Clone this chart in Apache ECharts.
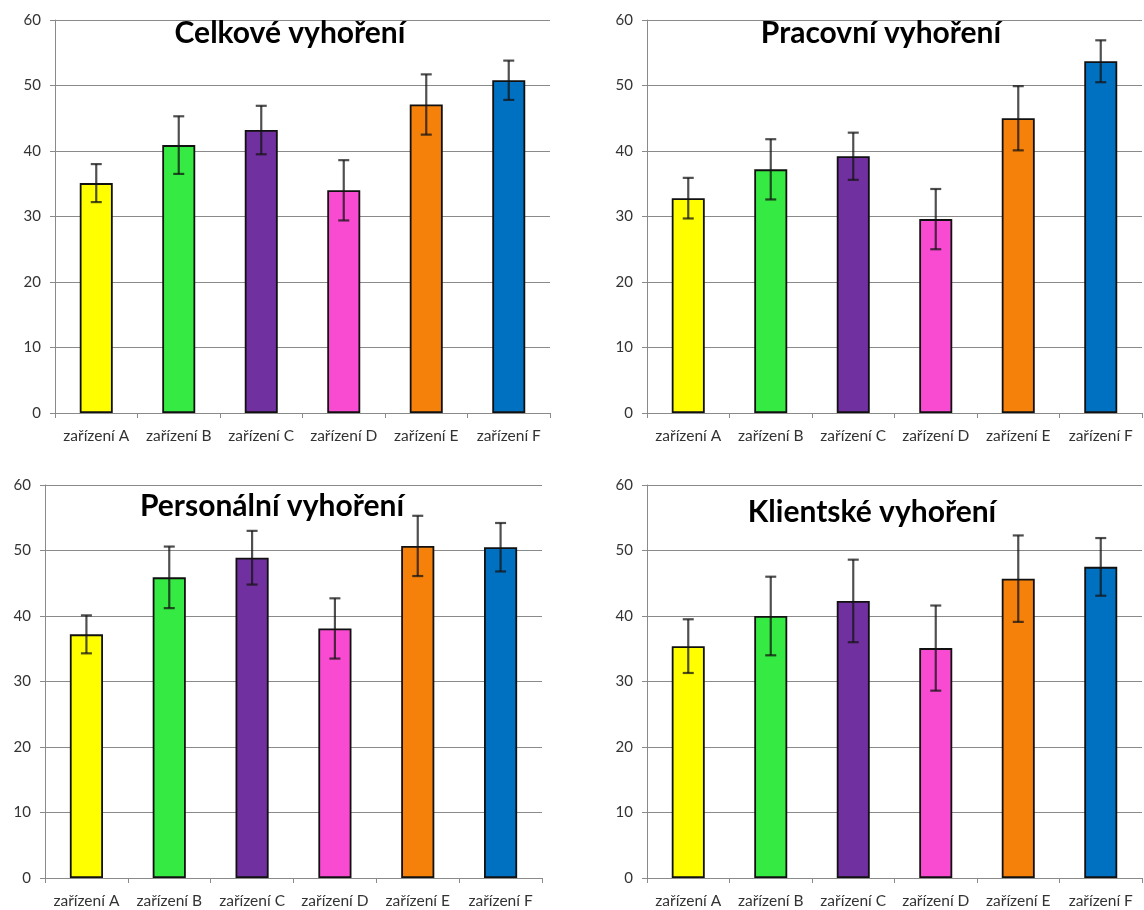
<!DOCTYPE html>
<html>
<head>
<meta charset="utf-8">
<script src="https://cdn.jsdelivr.net/npm/echarts@6/dist/echarts.min.js"></script>
<style>
html, body { margin: 0; padding: 0; background: #ffffff; }
#chart { width: 1144px; height: 910px; }
</style>
</head>
<body>
<div id="chart"></div>
<script>
// ---- Data ----
const categories = ['zařízení A', 'zařízení B', 'zařízení C', 'zařízení D', 'zařízení E', 'zařízení F'];
const yTicks = [0, 10, 20, 30, 40, 50, 60];

const titles = ['Celkové vyhoření', 'Pracovní vyhoření', 'Personální vyhoření', 'Klientské vyhoření'];

const celkoveValues = [35.1, 40.9, 43.2, 34.0, 47.1, 50.8];
const celkoveErrors = [2.9, 4.4, 3.7, 4.6, 4.6, 3.0];

const pracovniValues = [32.8, 37.2, 39.2, 29.6, 45.0, 53.7];
const pracovniErrors = [3.1, 4.6, 3.6, 4.6, 4.9, 3.2];

const personalniValues = [37.2, 45.9, 48.9, 38.1, 50.7, 50.5];
const personalniErrors = [2.9, 4.7, 4.1, 4.6, 4.6, 3.7];

const klientskeValues = [35.4, 40.0, 42.3, 35.1, 45.7, 47.5];
const klientskeErrors = [4.1, 6.0, 6.3, 6.5, 6.6, 4.4];

const barColors = ['#FFFF00', '#35EA42', '#7030A0', '#F94BD1', '#F5800A', '#0070C0'];

// ---- Layout ----
const panels = [
  { values: celkoveValues, errors: celkoveErrors, grid: { left: 55, right: 594, top: 20, bottom: 497 }, title: { x: 290, y: 18 } },
  { values: pracovniValues, errors: pracovniErrors, grid: { left: 647, right: 2, top: 20, bottom: 497 }, title: { x: 881, y: 18 } },
  { values: personalniValues, errors: personalniErrors, grid: { left: 45, right: 602, top: 485, bottom: 32 }, title: { x: 272, y: 491 } },
  { values: klientskeValues, errors: klientskeErrors, grid: { left: 647, right: 2, top: 485, bottom: 32 }, title: { x: 872, y: 497 } }
];

const gridColor = '#8a8a8a';
const fontFamily = 'Lato, "Open Sans", sans-serif';

const option = {
  backgroundColor: '#ffffff',
  animation: false,
  title: [],
  grid: [],
  xAxis: [],
  yAxis: [],
  series: []
};

panels.forEach((p, i) => {
  option.title.push({
    text: titles[i],
    left: p.title.x,
    top: p.title.y,
    textAlign: 'center',
    padding: 0,
    textStyle: { fontFamily: fontFamily, fontSize: 30, fontWeight: 'bold', color: '#000000' }
  });
  option.grid.push(Object.assign({ containLabel: false }, p.grid));
  option.xAxis.push({
    type: 'category',
    gridIndex: i,
    data: categories,
    axisLine: { show: true, lineStyle: { color: gridColor, width: 1 } },
    axisTick: { show: true, length: 5, lineStyle: { color: gridColor } },
    axisLabel: { color: '#333333', fontFamily: fontFamily, fontSize: 15.5, margin: 15, interval: 0 },
    splitLine: { show: false }
  });
  option.yAxis.push({
    type: 'value',
    gridIndex: i,
    min: yTicks[0],
    max: yTicks[yTicks.length - 1],
    interval: yTicks[1] - yTicks[0],
    axisLine: { show: true, lineStyle: { color: gridColor, width: 1 } },
    axisTick: { show: true, length: 5, lineStyle: { color: gridColor } },
    axisLabel: { color: '#333333', fontFamily: fontFamily, fontSize: 15, margin: 14 },
    splitLine: { show: true, lineStyle: { color: gridColor, width: 1 } }
  });
  option.series.push({
    type: 'bar',
    xAxisIndex: i,
    yAxisIndex: i,
    barWidth: '40%',
    data: p.values.map((v, k) => ({
      value: v,
      itemStyle: { color: barColors[k], borderColor: '#111111', borderWidth: 1.8 }
    })),
    z: 2
  });
  option.series.push({
    type: 'custom',
    xAxisIndex: i,
    yAxisIndex: i,
    z: 5,
    data: p.values.map((v, k) => [k, v - p.errors[k], v + p.errors[k]]),
    renderItem: function (params, api) {
      const idx = api.value(0);
      const lo = api.coord([idx, api.value(1)]);
      const hi = api.coord([idx, api.value(2)]);
      const hw = 5.5;
      const style = { stroke: 'rgba(20,20,20,0.75)', lineWidth: 2.2 };
      return {
        type: 'group',
        children: [
          { type: 'line', shape: { x1: hi[0], y1: hi[1], x2: lo[0], y2: lo[1] }, style: style },
          { type: 'line', shape: { x1: hi[0] - hw, y1: hi[1], x2: hi[0] + hw, y2: hi[1] }, style: style },
          { type: 'line', shape: { x1: lo[0] - hw, y1: lo[1], x2: lo[0] + hw, y2: lo[1] }, style: style }
        ]
      };
    }
  });
});

const chart = echarts.init(document.getElementById('chart'), null, { renderer: 'canvas' });
chart.setOption(option);
</script>
</body>
</html>
